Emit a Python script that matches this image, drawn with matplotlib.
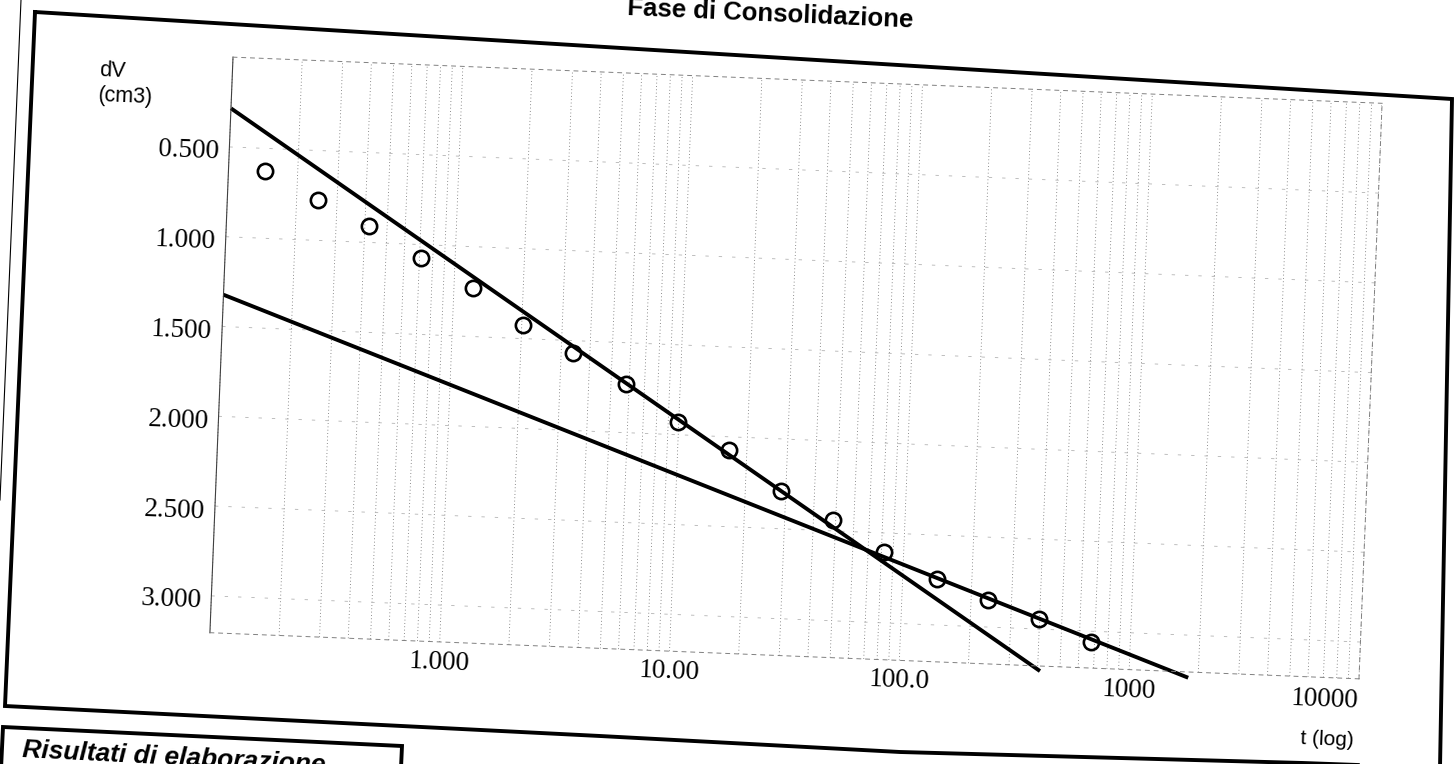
import matplotlib
matplotlib.use('Agg')
import matplotlib.pyplot as plt
import matplotlib.transforms as mtransforms
from matplotlib.axes import Axes
from matplotlib.projections import register_projection
from matplotlib.ticker import LogLocator, NullFormatter
from matplotlib.lines import Line2D

# letture della fase di consolidazione (t in scala log, dV in cm3)
t_lettura = [0.144, 0.247, 0.416, 0.714, 1.21, 2.03, 3.39, 5.81, 9.95, 16.7,
             28.6, 48.5, 82.0, 141, 238, 399, 675]
dv_lettura = [0.627, 0.773, 0.907, 1.077, 1.231, 1.423, 1.568, 1.73, 1.929, 2.075,
              2.287, 2.441, 2.607, 2.743, 2.852, 2.946, 3.061]

# rette di consolidazione primaria e secondaria
t_primaria = [0.1, 410]
dv_primaria = [0.285, 3.233]
t_secondaria = [0.1, 1811]
dv_secondaria = [1.323, 3.237]

x_ticks = [1, 10, 100, 1000, 10000]
x_labels = ['1.000', '10.00', '100.0', '1000', '10000']
y_ticks = [0.5, 1.0, 1.5, 2.0, 2.5, 3.0]
y_labels = ['0.500', '1.000', '1.500', '2.000', '2.500', '3.000']

W, H = 1454, 764
TILT = -2.3               # il foglio scansionato e' un po' ruotato
PIVOT = (796, H - 368)    # centro dell'area del grafico, in pixel


class TiltedAxes(Axes):
    # assi normali, ma tutto viene ruotato di TILT gradi attorno a PIVOT
    name = 'tilted'

    def _set_lim_and_transforms(self):
        rot = mtransforms.Affine2D().rotate_deg_around(PIVOT[0], PIVOT[1], TILT)
        self.transAxes = mtransforms.BboxTransformTo(self.bbox) + rot
        self.transScale = mtransforms.TransformWrapper(mtransforms.IdentityTransform())
        self.transLimits = mtransforms.BboxTransformFrom(
            mtransforms.TransformedBbox(self._viewLim, self.transScale))
        self.transData = self.transScale + (self.transLimits + self.transAxes)
        to_axes = self.transScale + self.transLimits
        ident = mtransforms.IdentityTransform()
        self._xaxis_transform = mtransforms.blended_transform_factory(to_axes, ident) + self.transAxes
        self._yaxis_transform = mtransforms.blended_transform_factory(ident, to_axes) + self.transAxes


register_projection(TiltedAxes)


def px(pts):
    # pixel dell'immagine (origine in alto a sinistra) -> coordinate figura
    xs = [p[0] / W for p in pts]
    ys = [1 - p[1] / H for p in pts]
    return xs, ys


plt.rcParams['font.family'] = 'Liberation Sans'

fig = plt.figure(figsize=(W / 100, H / 100), dpi=100)
ax = fig.add_axes([221 / W, 1 - 656 / H, 1150 / W, 576 / H], projection='tilted')

ax.set_xscale('log')
ax.set_xlim(0.1, 10000)
ax.set_ylim(3.205, 0)

# griglia
ax.xaxis.set_minor_locator(LogLocator(base=10, subs=range(1, 10)))
ax.xaxis.set_minor_formatter(NullFormatter())
ax.grid(True, axis='x', which='both', linestyle=(0, (1, 3)), linewidth=0.6, color='0.4')
ax.grid(True, axis='y', which='major', linestyle=(0, (4, 12)), linewidth=0.6, color='0.7')

ax.set_xticks(x_ticks, x_labels)
ax.set_yticks(y_ticks, y_labels)
ax.tick_params(which='both', length=0)
ax.tick_params(axis='both', labelsize=19.5, labelfontfamily='Liberation Serif',
               labelrotation=TILT)
ax.tick_params(axis='x', pad=5)
ax.tick_params(axis='y', pad=7)
ax.get_xticklabels()[-1].set_ha('right')

ax.spines['left'].set_linewidth(0.8)
ax.spines['left'].set_color('0.25')
for lato in ['top', 'bottom', 'right']:
    ax.spines[lato].set_linestyle((0, (4, 5)))
    ax.spines[lato].set_linewidth(0.7)
    ax.spines[lato].set_color('0.5')

# rette e letture
ax.plot(t_primaria, dv_primaria, color='black', linewidth=2.8, clip_on=False,
        solid_capstyle='butt')
ax.plot(t_secondaria, dv_secondaria, color='black', linewidth=2.8, clip_on=False,
        solid_capstyle='butt')
ax.plot(t_lettura, dv_lettura, 'o', markerfacecolor='none', markeredgecolor='black',
        markersize=11, markeredgewidth=1.9, clip_on=False)

ax.text(-0.116, 0.967, 'dV', transform=ax.transAxes, fontsize=15.5,
        ha='left', va='center', rotation=TILT)
ax.text(-0.116, 0.922, '(cm3)', transform=ax.transAxes, fontsize=15.5,
        ha='left', va='center', rotation=TILT)
ax.text(0.998, -0.105, 't (log)', transform=ax.transAxes, fontsize=15,
        ha='right', va='center', rotation=TILT)

# cornice del foglio
cornice = [(35, 12), (1452, 99), (1440, 768), (1303, 763), (900, 752),
           (600, 736), (5, 706), (35, 12)]
fig.add_artist(Line2D(*px(cornice), transform=fig.transFigure, color='black',
                      linewidth=2.8, solid_joinstyle='miter'))
fig.add_artist(Line2D(*px([(21, 0), (0, 500)]), transform=fig.transFigure,
                      color='black', linewidth=0.8))

# riquadro dei risultati
riquadro = [(0, 790), (3, 727), (402, 746), (400, 790)]
fig.add_artist(Line2D(*px(riquadro), transform=fig.transFigure, color='black',
                      linewidth=2.8, solid_joinstyle='miter'))

fig.text(770 / W, 1 - 21 / H, 'Fase di Consolidazione', fontsize=18.5,
         fontweight='bold', ha='center', va='baseline', rotation=-2.5,
         rotation_mode='anchor')
fig.text(22 / W, 1 - 757 / H, 'Risultati di elaborazione', fontsize=19,
         fontweight='bold', fontstyle='italic', ha='left', va='baseline',
         rotation=-2.9, rotation_mode='anchor')

fig.savefig('out.png', dpi=100, facecolor='white')
